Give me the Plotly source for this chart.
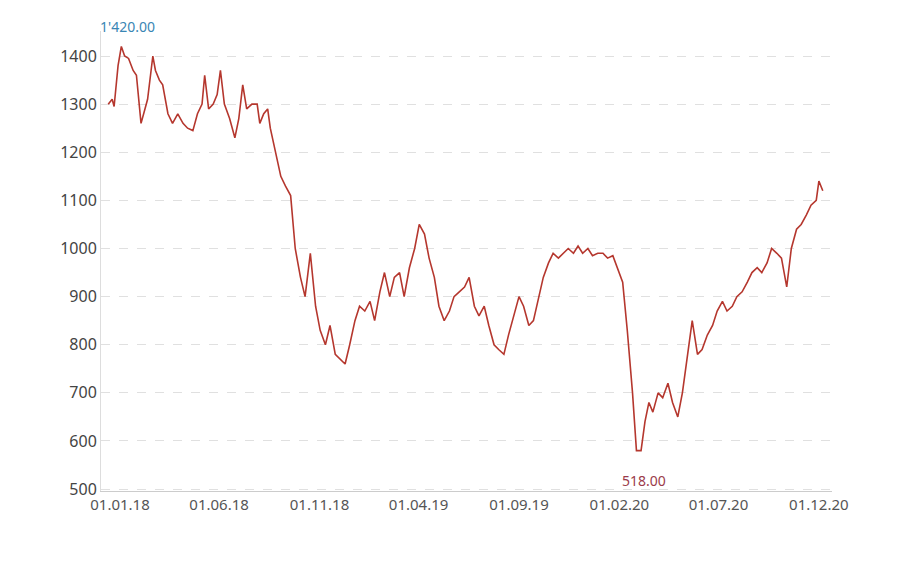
import plotly.graph_objects as go

dates = ["2017-12-14","2017-12-20","2017-12-23","2017-12-29","2018-01-03","2018-01-08","2018-01-14","2018-01-21","2018-01-26","2018-01-29",
"2018-02-02","2018-02-08","2018-02-12","2018-02-20","2018-02-24","2018-03-02","2018-03-07","2018-03-15","2018-03-22","2018-03-30",
"2018-04-07","2018-04-14","2018-04-22","2018-04-29","2018-05-06","2018-05-10","2018-05-16","2018-05-23","2018-05-29","2018-06-03",
"2018-06-09","2018-06-17","2018-06-25","2018-07-01","2018-07-07","2018-07-13","2018-07-21","2018-07-29","2018-08-02","2018-08-08",
"2018-08-14","2018-08-18","2018-08-26","2018-09-03","2018-09-10","2018-09-18","2018-09-25","2018-10-03","2018-10-10","2018-10-18",
"2018-10-26","2018-11-02","2018-11-10","2018-11-17","2018-11-25","2018-12-03","2018-12-10","2018-12-17","2018-12-25","2019-01-01",
"2019-01-09","2019-01-17","2019-01-24","2019-02-01","2019-02-08","2019-02-16","2019-02-23","2019-03-03","2019-03-10","2019-03-18",
"2019-03-26","2019-04-02","2019-04-10","2019-04-17","2019-04-25","2019-05-02","2019-05-10","2019-05-18","2019-05-25","2019-06-02",
"2019-06-10","2019-06-17","2019-06-25","2019-07-02","2019-07-10","2019-07-17","2019-07-25","2019-08-01","2019-08-09","2019-08-16",
"2019-08-24","2019-09-01","2019-09-08","2019-09-16","2019-09-23","2019-10-01","2019-10-08","2019-10-16","2019-10-23","2019-10-31",
"2019-11-07","2019-11-15","2019-11-23","2019-11-30","2019-12-07","2019-12-15","2019-12-22","2019-12-30","2020-01-07","2020-01-14",
"2020-01-22","2020-01-29","2020-02-06","2020-02-13","2020-02-21","2020-02-27","2020-03-05","2020-03-11","2020-03-17","2020-03-23",
"2020-03-31","2020-04-07","2020-04-15","2020-04-22","2020-04-30","2020-05-07","2020-05-15","2020-05-22","2020-05-30","2020-06-06",
"2020-06-14","2020-06-22","2020-06-29","2020-07-07","2020-07-14","2020-07-22","2020-07-29","2020-08-06","2020-08-14","2020-08-21",
"2020-08-29","2020-09-05","2020-09-13","2020-09-20","2020-09-28","2020-10-05","2020-10-13","2020-10-20","2020-10-28","2020-11-04",
"2020-11-12","2020-11-19","2020-11-27","2020-12-01","2020-12-07"]
values = [1300,1310,1295,1380,1420,1400,1395,1370,1360,1320,
1260,1290,1310,1400,1370,1350,1340,1280,1260,1280,
1260,1250,1245,1280,1300,1360,1290,1300,1320,1370,
1300,1270,1230,1270,1340,1290,1300,1300,1260,1280,
1290,1250,1200,1150,1130,1110,1000,940,900,990,
880,830,800,840,780,770,760,800,850,880,
870,890,850,910,950,900,940,950,900,960,
1000,1050,1030,980,940,880,850,870,900,910,
920,940,880,860,880,840,800,790,780,820,
860,900,880,840,850,900,940,970,990,980,
990,1000,990,1005,990,1000,985,990,990,980,
985,960,930,830,700,580,580,640,680,660,
700,690,720,680,650,700,780,850,780,790,
820,840,870,890,870,880,900,910,930,950,
960,950,970,1000,990,980,920,1000,1040,1050,
1070,1090,1100,1140,1120]

max_label = "1'420.00"
min_label = "518.00"

fig = go.Figure(go.Scatter(x=dates, y=values, mode="lines",
    line=dict(color="#b5372e", width=1.6), hoverinfo="skip"))

fig.add_annotation(x="2018-01-12", y=1420, text=max_label, showarrow=False, yshift=20,
    font=dict(family="Noto Sans", size=14, color="#3a86b4"))
fig.add_annotation(x="2020-03-10", y=580, text=min_label, showarrow=False, yshift=-30,
    font=dict(family="Noto Sans", size=14, color="#9b3b4a"))

fig.update_layout(
    width=900, height=563, plot_bgcolor="white", paper_bgcolor="white",
    margin=dict(l=93, r=76, t=23, b=80), showlegend=False,
    font=dict(family="Noto Sans", size=15, color="#555555"),
    xaxis=dict(range=["2017-12-03","2020-12-21"], tick0="2018-01-01", dtick="M5",
               tickformat="%d.%m.%y", showgrid=False, showline=True, linecolor="#cccccc",
               ticks="", tickfont=dict(size=15, color="#555555")),
    yaxis=dict(range=[496,1452], tickvals=[500,600,700,800,900,1000,1100,1200,1300,1400],
               showgrid=True, gridcolor="#e0e0e0", griddash="dash", showline=True,
               linecolor="#dddddd", zeroline=False, ticks="", tickfont=dict(size=16, color="#444444")),
)
fig.write_html("out.html")
